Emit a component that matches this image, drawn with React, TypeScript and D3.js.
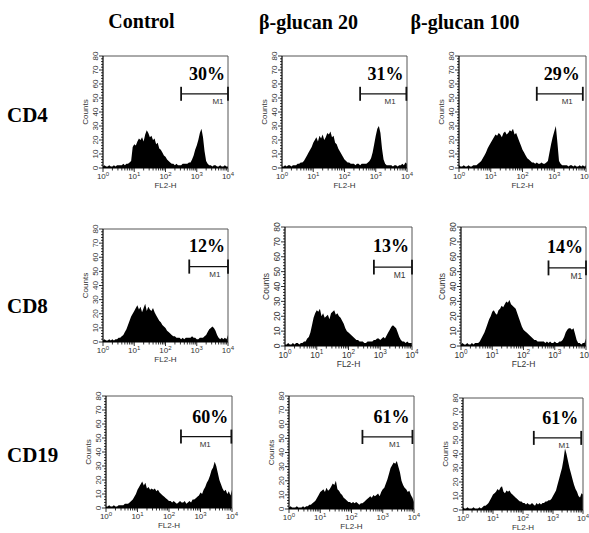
import React from 'react';
import * as d3 from 'd3';

// ---- Data ----
const columnTitles = ['Control', 'β-glucan 20', 'β-glucan 100'];
const rowTitles = ['CD4', 'CD8', 'CD19'];

// histogram channels: log10(FL2-H) from 0 to 4 in steps of 0.05
const BIN_STEP = 0.05;

const cd4Control = [1,2,1,1,2,1,1,2,1,2,2, 2,2,3,2,3,3,4,5, 15,17,16,19,21,20,22,19,24,27,25,22, 23,20,21,17,18,14,13,11,9,8, 6,5,4,3,3,2,3,2,2,2,3,3,3,3,4, 4,6,9,13,16,20,25,28,22,12,5,3,2, 2,1,2,2,1,1,2,1,1,2,1,1];
const cd4Glucan20 = [1,1,2,1,2,2,1,2,2,2,3, 3,4,4,5,7,9,11,13, 15,18,20,22,19,23,21,24,20,22,25,24, 26,22,23,18,17,14,12,10,8,6, 5,4,4,3,3,3,2,3,3,2,3,3,3,3,4, 5,7,11,17,23,28,30,25,14,6,3,2,2, 2,2,1,2,2,1,2,2,3,2,4,3];
const cd4Glucan100 = [2,1,1,2,1,1,2,1,1,2,2, 2,3,4,5,7,9,11,14, 16,18,20,22,24,23,25,24,22,25,26,24, 25,27,26,28,24,25,22,19,16,13, 11,9,7,6,5,4,4,3,4,3,3,4,3,3,4, 5,11,17,22,26,30,18,5,3,2,2,2,2, 1,2,2,1,2,1,1,2,1,2,1,2];
const cd8Control = [1,2,1,1,2,1,2,1,2,2,3, 3,4,5,7,9,12,15,18, 20,22,24,26,23,25,21,24,27,22,25,23, 22,24,21,19,17,15,14,12,11,10, 8,7,6,5,4,4,3,3,3,2,3,2,3,3,3, 3,4,3,3,2,2,3,3,3,4,5,7,9, 10,11,10,8,5,3,2,3,2,3,2,5];
const cd8Glucan20 = [1,1,2,1,1,2,1,2,2,1,2, 2,3,3,5,6,9,14,19, 22,24,23,25,20,22,19,20,21,18,22,23, 24,21,22,20,19,17,15,12,10,9, 8,7,6,5,4,4,3,3,3,2,2,3,3,3,3, 4,4,5,5,4,5,6,5,7,9,11,13,14, 13,12,9,6,4,3,3,2,3,2,2,2];
const cd8Glucan100 = [1,2,1,1,2,1,1,2,1,2,2, 2,3,5,7,9,12,15,18, 20,23,24,22,21,24,25,27,26,28,30,29, 31,28,27,26,25,22,19,16,13,11, 10,9,8,7,6,5,4,4,3,3,3,3,3,2,3, 2,3,2,2,3,2,2,3,3,4,6,9,11, 12,12,11,12,8,4,2,2,1,2,2,5];
const cd19Control = [1,1,2,1,1,2,1,1,2,2,2, 2,3,3,3,4,5,6,8, 10,13,15,17,19,16,18,14,15,13,14,13, 14,12,13,11,10,9,8,7,6,5, 5,4,5,4,3,4,5,4,4,5,3,4,5,4,6, 6,7,8,9,11,10,13,15,18,20,23,27,29, 33,30,25,20,17,14,12,13,10,12,9,13];
const cd19Glucan20 = [1,2,1,1,1,2,1,1,1,2,1, 2,2,3,3,4,5,6,8, 10,12,13,14,12,15,13,14,16,18,17,20, 14,13,11,10,8,7,6,5,5,4, 5,4,5,4,3,4,4,5,6,7,8,9,8,10,9, 10,11,9,12,14,15,18,21,25,29,31,33,32, 34,30,26,20,17,15,14,12,13,10,8,5];
const cd19Glucan100 = [2,1,1,2,1,1,1,2,1,1,1, 2,1,2,3,3,4,5,7, 9,11,12,13,15,14,16,17,13,12,14,13, 14,12,11,10,9,8,7,6,6,5, 5,4,5,4,4,5,4,3,5,4,5,4,5,5,6, 6,7,7,8,10,12,14,18,22,26,30,36,44, 40,35,30,26,22,18,15,13,10,9,12,11];

const histograms = [
  [cd4Control, cd4Glucan20, cd4Glucan100],
  [cd8Control, cd8Glucan20, cd8Glucan100],
  [cd19Control, cd19Glucan20, cd19Glucan100],
];

const percents = [[30, 31, 29], [12, 13, 14], [60, 61, 61]];
// M1 marker gate (log10 FL2-H) and level (counts)
const markerStart = [[2.5, 2.5, 2.45], [2.76, 2.8, 2.8], [2.38, 2.35, 2.36]];
const markerEnd = [[4, 3.98, 3.9], [4, 4, 4], [3.98, 3.95, 3.94]];
const markerLevel = [[53, 53, 53], [53.4, 53, 52.5], [51, 51, 51.5]];

const xTickExponents = [0, 1, 2, 3, 4];
const yTickValues = [0, 10, 20, 30, 40, 50, 60, 70, 80];

// ---- Layout ----
const LAYOUT = [
  [{ x: 103, y: 56, w: 125, h: 112, m1: 3.68 }, { x: 282, y: 56, w: 125, h: 112, m1: 3.46 }, { x: 459, y: 56, w: 127, h: 112, m1: 3.41 }],
  [{ x: 103, y: 229, w: 125, h: 113, m1: 3.58 }, { x: 285, y: 227, w: 127, h: 119, m1: 3.61 }, { x: 461, y: 227, w: 125, h: 119, m1: 3.69 }],
  [{ x: 106, y: 396, w: 126, h: 112, m1: 3.15 }, { x: 289, y: 396, w: 125, h: 113, m1: 3.38 }, { x: 463, y: 398, w: 120, h: 112, m1: 3.37 }],
];
const COL_TITLE_X = [141.5, 308.5, 465];
const COL_TITLE_Y = [28, 29, 29];
const ROW_TITLE_Y = [122, 313, 462];

const SANS = '"Liberation Sans", Arial, sans-serif';
const SERIF = '"Liberation Serif", "Times New Roman", serif';

function Panel({ values, L, pct, mS, mE, mLvl }: any) {
  const x = d3.scaleLog().domain([1, 1e4]).range([0, L.w]);
  const y = d3.scaleLinear().domain([0, 80]).range([L.h, 0]);
  const s = L.h / 112;
  const area = d3
    .area<number>()
    .x((_d, i) => x(Math.pow(10, i * BIN_STEP)))
    .y0(y(0))
    .y1((d) => y(d))
    .curve(d3.curveLinear);

  const minorY = d3.range(0, 81, 2);
  const xAll = x.ticks();
  const barY = y(mLvl);
  const bx0 = x(Math.pow(10, mS));
  const bx1 = x(Math.pow(10, mE));
  const fs = 8 * s;

  return (
    <g transform={`translate(${L.x},${L.y})`}>
      <path d={area(values) || ''} fill="#000" />
      {/* frame */}
      <line x1={0} y1={0} x2={L.w} y2={0} stroke="#555" strokeWidth={1} />
      <line x1={L.w} y1={0} x2={L.w} y2={L.h} stroke="#555" strokeWidth={1} />
      <line x1={0} y1={0} x2={0} y2={L.h} stroke="#000" strokeWidth={1.2} />
      <line x1={0} y1={L.h} x2={L.w} y2={L.h} stroke="#000" strokeWidth={1.2} />
      {/* y ticks */}
      {minorY.map((v) => (
        <line key={'my' + v} x1={0} x2={v % 10 === 0 ? -4 : -2} y1={y(v)} y2={y(v)} stroke="#000" strokeWidth={0.8} />
      ))}
      {yTickValues.map((v) => (
        <text
          key={'yl' + v}
          transform={`translate(${-5 * s},${y(v)}) rotate(-90)`}
          textAnchor="middle"
          fontFamily={SANS}
          fontSize={fs}
          fill="#333"
        >
          {v}
        </text>
      ))}
      <text
        transform={`translate(${-15 * s},${L.h / 2}) rotate(-90)`}
        textAnchor="middle"
        fontFamily={SANS}
        fontSize={fs}
        fill="#333"
      >
        Counts
      </text>
      {/* x ticks */}
      {xAll.map((t, i) => {
        const major = Math.abs(Math.log10(t) - Math.round(Math.log10(t))) < 1e-9;
        return (
          <line key={'xt' + i} x1={x(t)} x2={x(t)} y1={L.h} y2={L.h + (major ? 4 : 2.5)} stroke="#000" strokeWidth={0.8} />
        );
      })}
      {xTickExponents.map((e) => (
        <text
          key={'xl' + e}
          x={x(Math.pow(10, e))}
          y={L.h + 11 * s}
          textAnchor="middle"
          fontFamily={SANS}
          fontSize={fs}
          fill="#333"
        >
          10
          <tspan dy={-3.5 * s} fontSize={6 * s}>
            {e}
          </tspan>
        </text>
      ))}
      <text x={x(100)} y={L.h + 20 * s} textAnchor="middle" fontFamily={SANS} fontSize={fs} fill="#333">
        FL2-H
      </text>
      {/* M1 marker */}
      <line x1={bx0} x2={bx1} y1={barY} y2={barY} stroke="#111" strokeWidth={1.3} />
      <line x1={bx0} x2={bx0} y1={barY - 7 * s} y2={barY + 7 * s} stroke="#111" strokeWidth={1.8} />
      <line x1={bx1} x2={bx1} y1={barY - 7 * s} y2={barY + 7 * s} stroke="#111" strokeWidth={1.8} />
      <text
        x={x(Math.pow(10, L.m1))}
        y={barY + 10 * s}
        textAnchor="middle"
        fontFamily={SANS}
        fontSize={fs}
        fill="#333"
      >
        M1
      </text>
      <text
        x={bx1 - 3}
        y={barY - 14 * s}
        textAnchor="end"
        fontFamily={SERIF}
        fontWeight="bold"
        fontSize={18}
        fill="#000"
      >
        {pct}%
      </text>
    </g>
  );
}

export default function App() {
  return (
    <svg
      width={589}
      height={533}
      style={{ position: 'absolute', left: 0, top: 0, background: '#fff' }}
    >
      <rect x={0} y={0} width={589} height={533} fill="#fff" />
      {columnTitles.map((t, i) => (
        <text
          key={t}
          x={COL_TITLE_X[i]}
          y={COL_TITLE_Y[i]}
          textAnchor="middle"
          fontFamily={SERIF}
          fontWeight="bold"
          fontSize={20}
          fill="#000"
        >
          {t}
        </text>
      ))}
      {rowTitles.map((t, i) => (
        <text
          key={t}
          x={7}
          y={ROW_TITLE_Y[i]}
          fontFamily={SERIF}
          fontWeight="bold"
          fontSize={21}
          fill="#000"
        >
          {t}
        </text>
      ))}
      {histograms.map((row, r) =>
        row.map((vals, c) => (
          <Panel
            key={r + '-' + c}
            values={vals}
            L={LAYOUT[r][c]}
            pct={percents[r][c]}
            mS={markerStart[r][c]}
            mE={markerEnd[r][c]}
            mLvl={markerLevel[r][c]}
          />
        ))
      )}
    </svg>
  );
}
